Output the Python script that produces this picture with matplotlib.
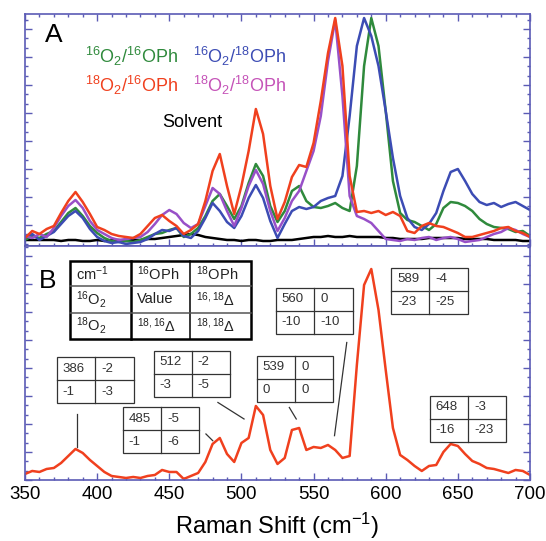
import matplotlib
matplotlib.use("Agg")
import matplotlib.pyplot as plt
from matplotlib.patches import Rectangle
from matplotlib.ticker import MultipleLocator, AutoMinorLocator
import numpy as np

plt.rcParams['font.family'] = ['Liberation Sans', 'DejaVu Sans']
plt.rcParams['mathtext.fontset'] = 'custom'
plt.rcParams['mathtext.rm'] = 'Liberation Sans'
plt.rcParams['mathtext.it'] = 'Liberation Sans:italic'
plt.rcParams['mathtext.default'] = 'regular'

# Raman shift grid (cm-1), 5 cm-1 steps
shift = np.arange(350, 701, 5)

# Panel A intensities (arbitrary units)
a_16_16 = [6, 10, 8, 12, 15, 24, 33, 38, 30, 20, 13, 8, 5, 4, 5, 4, 6, 9, 12, 13,
           16, 18, 9, 12, 18, 30, 45, 52, 40, 27, 40, 63, 82, 70, 40, 24, 35, 55, 60, 45,
           39, 38, 40, 43, 38, 35, 80, 180, 228, 200, 135, 65, 33, 26, 24, 20, 16, 22, 38, 44,
           43, 40, 35, 27, 22, 19, 18, 17, 14, 15, 10]
a_16_18 = [8, 12, 6, 10, 14, 22, 30, 35, 28, 17, 9, 5, 3, 4, 2, 3, 4, 7, 12, 16,
           15, 18, 10, 8, 15, 28, 43, 35, 24, 18, 30, 48, 61, 48, 25, 8, 22, 35, 39, 37,
           39, 45, 48, 50, 70, 130, 200, 228, 210, 180, 135, 88, 50, 28, 19, 16, 22, 33, 55, 74,
           77, 65, 52, 44, 41, 43, 39, 42, 44, 40, 36]
a_18_16 = [8, 15, 12, 17, 20, 33, 45, 54, 44, 32, 19, 16, 12, 10, 9, 8, 12, 20, 28, 31,
           25, 20, 12, 16, 22, 45, 75, 92, 60, 32, 60, 95, 137, 112, 60, 27, 44, 69, 81, 79,
           103, 145, 193, 228, 180, 70, 34, 35, 33, 35, 31, 34, 30, 15, 13, 20, 23, 20, 19, 16,
           13, 9, 9, 11, 13, 15, 18, 19, 15, 13, 9]
a_18_18 = [10, 8, 12, 9, 18, 30, 40, 46, 38, 25, 16, 12, 8, 6, 7, 8, 9, 14, 22, 31,
           36, 32, 23, 18, 22, 40, 58, 52, 35, 20, 38, 60, 76, 62, 35, 15, 28, 45, 55, 75,
           95, 130, 185, 226, 150, 50, 30, 27, 23, 15, 7, 6, 5, 7, 6, 8, 9, 6, 8, 9,
           7, 4, 5, 6, 9, 12, 14, 18, 16, 12, 9]
a_solvent = [6, 6, 6, 6, 6, 5, 6, 6, 5, 5, 6, 5, 6, 6, 5, 6, 6, 7, 7, 8,
             9, 10, 11, 12, 11, 9, 8, 7, 6, 6, 5, 6, 6, 5, 5, 6, 6, 6, 7, 8,
             9, 9, 10, 9, 9, 10, 9, 9, 9, 9, 8, 8, 7, 7, 7, 7, 8, 8, 8, 8,
             8, 7, 7, 7, 7, 6, 6, 6, 6, 5, 5]

# Panel B: 18O2/16OPh spectrum
b_spec = [6, 9, 8, 11, 12, 17, 24, 31, 27, 20, 14, 8, 4, 3, 2, 3, 2, 4, 5, 10,
          8, 8, 1, 4, 7, 18, 36, 42, 26, 18, 37, 42, 74, 65, 30, 16, 22, 50, 52, 30,
          33, 32, 35, 30, 22, 24, 115, 195, 211, 170, 110, 52, 25, 20, 14, 9, 14, 15, 28, 36,
          34, 26, 19, 16, 12, 11, 9, 7, 10, 9, 5]

# isotope shift tables: band, [[16,16 , 16,18], [18,16 , 18,18]]
bands = [386, 485, 512, 539, 560, 589, 648]
band_tables = [[["386", "-2"], ["-1", "-3"]],
               [["485", "-5"], ["-1", "-6"]],
               [["512", "-2"], ["-3", "-5"]],
               [["539", "0"], ["0", "0"]],
               [["560", "0"], ["-10", "-10"]],
               [["589", "-4"], ["-23", "-25"]],
               [["648", "-3"], ["-16", "-23"]]]
# table left/top corners (cm-1, intensity) and leader lines
table_pos = [(372.2, 122.5), (417.9, 72.5), (439.2, 129.2), (510.8, 124.0),
             (524.0, 192.4), (603.8, 212.4), (630.7, 84.2)]
leaders = [((386.2, 66), (386.2, 33)), ((475.4, 46), (480.1, 39.3)),
           ((483.7, 77.5), (501.8, 61)), ((533.2, 72.5), (538.0, 61)),
           ((573.0, 137.5), (564.5, 44.3)), None, None]

key_rows = [["cm$^{-1}$", "$^{16}$OPh", "$^{18}$OPh"],
            ["$^{16}$O$_2$", "Value", "$^{16,18}$Δ"],
            ["$^{18}$O$_2$", "$^{18,16}$Δ", "$^{18,18}$Δ"]]

green = "#2f8a3c"
blue = "#3c4cb4"
red = "#f0401e"
purple = "#9850c8"
frame = "#5b5bb5"

fig = plt.figure(figsize=(5.46, 5.41), dpi=100)
axA = fig.add_axes([0.0458, 0.5453, 0.9249, 0.4288])
axB = fig.add_axes([0.0458, 0.1128, 0.9249, 0.4325])

lw = 1.8
axA.plot(shift, a_solvent, color="black", lw=lw)
axA.plot(shift, a_16_16, color=green, lw=lw)
axA.plot(shift, a_16_18, color=blue, lw=lw)
axA.plot(shift, a_18_18, color=purple, lw=lw)
axA.plot(shift, a_18_16, color=red, lw=lw)
axA.set_ylim(0, 232)

axB.plot(shift, b_spec, color=red, lw=lw)
axB.set_ylim(0, 234)

for ax in (axA, axB):
    ax.set_xlim(350, 700)
    ax.xaxis.set_major_locator(MultipleLocator(50))
    ax.xaxis.set_minor_locator(MultipleLocator(10))
    ax.yaxis.set_minor_locator(AutoMinorLocator(3))
    ax.tick_params(which="both", direction="in", colors=frame, left=True, right=True,
                   labelleft=False)
    ax.tick_params(which="major", length=5, width=1)
    ax.tick_params(which="minor", length=2.5, width=1)
    for sp in ax.spines.values():
        sp.set_color(frame)
        sp.set_linewidth(1.2)

axA.yaxis.set_major_locator(MultipleLocator(28, offset=21))
axB.yaxis.set_major_locator(MultipleLocator(28))
axA.tick_params(which="both", top=True, labelbottom=False)
axB.tick_params(which="both", top=False)
axB.tick_params(axis="x", labelcolor="black", labelsize=13.5, pad=4)
axB.set_xlabel("Raman Shift (cm$^{-1}$)", fontsize=17, labelpad=6)

# panel A labels
axA.text(370.1, 211, "A", fontsize=19, ha="center", va="center")
axA.text(391.8, 189.6, "$^{16}$O$_2$/$^{16}$OPh", color=green, fontsize=13, va="center")
axA.text(466.6, 189.6, "$^{16}$O$_2$/$^{18}$OPh", color=blue, fontsize=13, va="center")
axA.text(391.8, 160.7, "$^{18}$O$_2$/$^{16}$OPh", color=red, fontsize=13, va="center")
axA.text(466.6, 160.7, "$^{18}$O$_2$/$^{18}$OPh", color="#c553b8", fontsize=13, va="center")
axA.text(445, 123.4, "Solvent", color="black", fontsize=13, va="center")

axB.text(365.7, 199, "B", fontsize=19, ha="center", va="center")

# key table
col_x = [381.3, 423.5, 464.5, 506.6]
row_y = [219, 194, 167.4, 140.8]
axB.add_patch(Rectangle((col_x[0], row_y[3]), col_x[3] - col_x[0], row_y[0] - row_y[3],
                        facecolor="white", edgecolor="black", lw=1.8, zorder=3))
axB.plot([col_x[1], col_x[1]], [row_y[0], row_y[3]], color="black", lw=1.8, zorder=4)
axB.plot([col_x[2], col_x[2]], [row_y[0], row_y[3]], color="black", lw=1.1, zorder=4)
for yy in row_y[1:3]:
    axB.plot([col_x[0], col_x[3]], [yy, yy], color="#555555", lw=1.1, zorder=4)
for i, row in enumerate(key_rows):
    yc = (row_y[i] + row_y[i + 1]) / 2
    for j, txt in enumerate(row):
        axB.text(col_x[j] + 4, yc, txt, fontsize=10.5, va="center", ha="left",
                 color="#222222", zorder=5)

# isotope shift tables
tw, th = 53, 46
for (x0, ytop), cells, lead in zip(table_pos, band_tables, leaders):
    axB.add_patch(Rectangle((x0, ytop - th), tw, th, facecolor="white",
                            edgecolor="#333333", lw=0.9, zorder=3))
    axB.plot([x0 + tw / 2, x0 + tw / 2], [ytop, ytop - th], color="#333333", lw=0.9, zorder=4)
    axB.plot([x0, x0 + tw], [ytop - th / 2, ytop - th / 2], color="#333333", lw=0.9, zorder=4)
    for i in range(2):
        for j in range(2):
            axB.text(x0 + j * tw / 2 + 4, ytop - th / 4 - i * th / 2, cells[i][j],
                     fontsize=9.5, va="center", ha="left", color="#333333", zorder=5)
    if lead is not None:
        axB.plot([lead[0][0], lead[1][0]], [lead[0][1], lead[1][1]],
                 color="#333333", lw=0.9, zorder=4)

fig.savefig("out.png", dpi=100)
